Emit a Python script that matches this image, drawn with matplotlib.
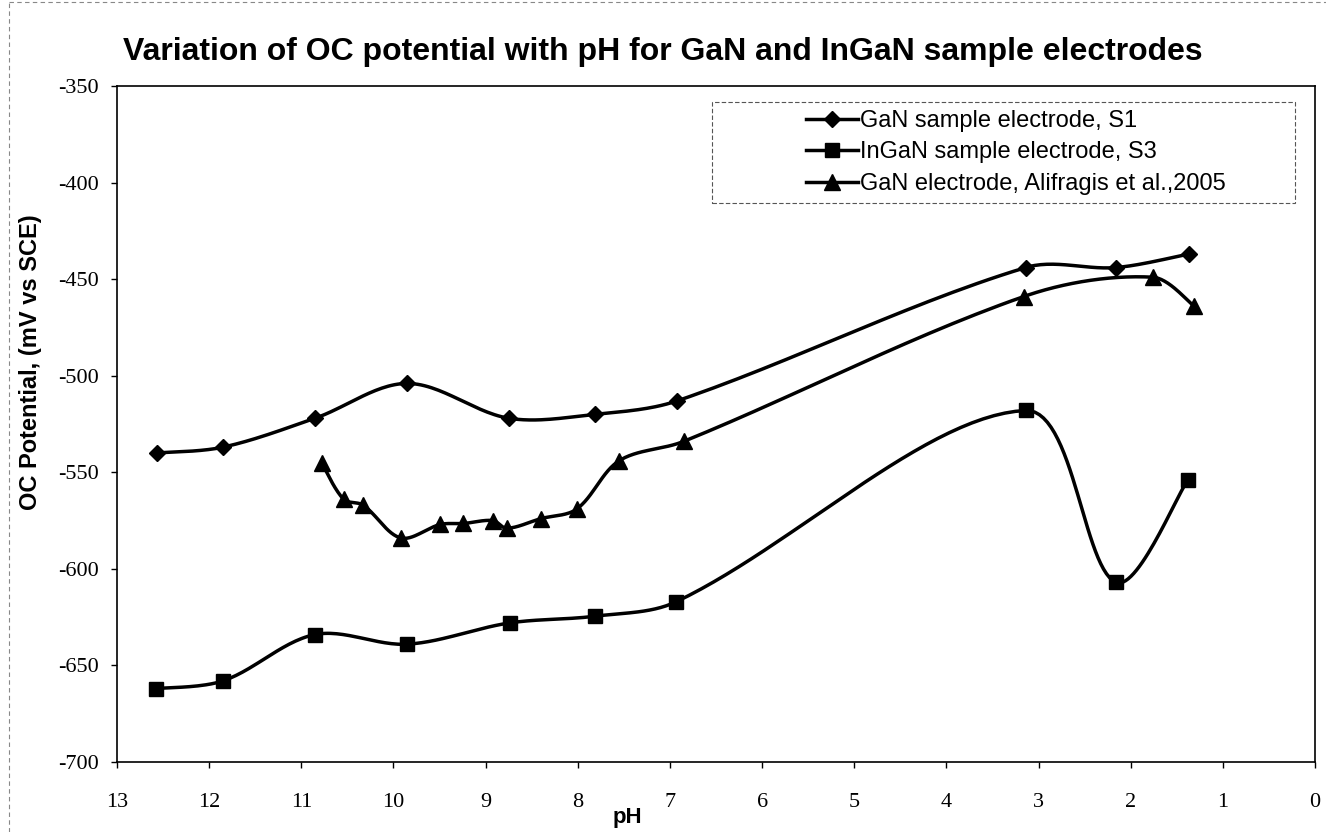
import numpy as np
import matplotlib
matplotlib.use('Agg')
import matplotlib.pyplot as plt
from matplotlib.patches import Rectangle
from matplotlib.lines import Line2D

plt.rcParams['axes.unicode_minus'] = False

# GaN sample electrode, S1
ph_s1 = [12.57, 11.85, 10.85, 9.85, 8.75, 7.81, 6.92, 3.14, 2.16, 1.37]
mv_s1 = [-540, -537, -522, -504, -522, -520, -513, -444, -444, -437]

# InGaN sample electrode, S3
ph_s3 = [12.58, 11.85, 10.85, 9.85, 8.74, 7.81, 6.93, 3.14, 2.16, 1.38]
mv_s3 = [-662, -658, -634, -639, -628, -624.5, -617, -518, -607, -554]

# GaN electrode, Alifragis et al., 2005
ph_ali = [10.78, 10.54, 10.33, 9.92, 9.49, 9.24, 8.92, 8.77, 8.40, 8.01, 7.55, 6.85, 3.16, 1.76, 1.31]
mv_ali = [-545, -564, -567, -584, -577, -576.5, -575, -579, -574, -569, -544, -534, -459, -449, -464]

labels = ['GaN sample electrode, S1',
          'InGaN sample electrode, S3',
          'GaN electrode, Alifragis et al.,2005']
x_ticks = list(range(13, -1, -1))
y_ticks = list(range(-700, -349, 50))


def smooth_px(P, n=30):
    # linea suavizada (Bezier), tangentes escaladas segun largo de los tramos
    P = np.asarray(P, dtype=float)
    N = len(P)
    L = np.linalg.norm(np.diff(P, axis=0), axis=1)
    T = np.zeros_like(P)
    T[0] = P[1] - P[0]
    T[-1] = P[-1] - P[-2]
    for k in range(1, N - 1):
        T[k] = P[k + 1] - P[k - 1]
    t = np.linspace(0, 1, n)[1:, None]
    out = [P[0]]
    for i in range(N - 1):
        if i == 0:
            c1 = P[i] + T[i] / 6
        else:
            c1 = P[i] + T[i] * L[i] / (L[i - 1] + L[i]) / 3
        if i + 1 == N - 1:
            c2 = P[i + 1] - T[i + 1] / 6
        else:
            c2 = P[i + 1] - T[i + 1] * L[i] / (L[i] + L[i + 1]) / 3
        seg = (1 - t)**3 * P[i] + 3 * (1 - t)**2 * t * c1 + 3 * (1 - t) * t**2 * c2 + t**3 * P[i + 1]
        out.extend(seg)
    return np.array(out)


fig = plt.figure(figsize=(13.26, 8.32), dpi=100)
ax = fig.add_axes([117 / 1326, 1 - 762 / 832, 1198 / 1326, 676 / 832])
ax.set_xlim(13, 0)
ax.set_ylim(-700, -350)

lw = 2.5
series = [(ph_s1, mv_s1, 'D', 8.5), (ph_s3, mv_s3, 's', 10), (ph_ali, mv_ali, '^', 11)]
handles = []
for (xs, ys, m, ms), lab in zip(series, labels):
    px = ax.transData.transform(np.column_stack([xs, ys]))
    curve = ax.transData.inverted().transform(smooth_px(px))
    ax.plot(curve[:, 0], curve[:, 1], color='black', lw=lw, solid_capstyle='round')
    ax.plot(xs, ys, linestyle='none', marker=m, ms=ms, color='black')
    handles.append(Line2D([], [], color='black', lw=lw, marker=m, ms=ms, label=lab))

ax.set_xticks(x_ticks)
ax.set_yticks(y_ticks)
ax.tick_params(direction='out', length=4, width=1)
ax.tick_params(axis='x', pad=18)
ax.tick_params(axis='y', pad=9)
for lbl in ax.get_xticklabels() + ax.get_yticklabels():
    lbl.set_fontfamily('Liberation Serif')
    lbl.set_fontsize(16)
for s in ax.spines.values():
    s.set_linewidth(1.2)

ax.text(0.426, -0.0814, 'pH', transform=ax.transAxes, ha='center', va='center',
        fontfamily='Liberation Sans', fontweight='bold', fontsize=16)
ax.set_ylabel('OC Potential, (mV vs SCE)', fontfamily='Liberation Sans', fontweight='bold', fontsize=17)
ax.yaxis.set_label_coords(-0.0626, 0.592)

fig.text(0.5, 0.937, 'Variation of OC potential with pH for GaN and InGaN sample electrodes',
         ha='center', va='center', fontfamily='Liberation Sans', fontweight='bold', fontsize=23)

# caja de la leyenda (punteada)
ax.add_patch(Rectangle((0.497, 0.827), 0.486, 0.149, transform=ax.transAxes, fill=False,
                       edgecolor='#555555', lw=0.8, linestyle=(0, (4, 2))))
leg = ax.legend(handles=handles, loc='upper left', bbox_to_anchor=(0.565, 0.982),
                frameon=False, prop={'family': 'Liberation Sans', 'size': 17},
                handlelength=2.2, handletextpad=0.12, labelspacing=0.4, borderpad=0)

# borde punteado de la figura
fig.add_artist(Line2D([9 / 1326, 9 / 1326], [0, 0.998], transform=fig.transFigure,
                      color='#888888', lw=0.8, linestyle=(0, (4, 3))))
fig.add_artist(Line2D([9 / 1326, 1], [0.997, 0.997], transform=fig.transFigure,
                      color='#888888', lw=0.8, linestyle=(0, (4, 3))))

fig.savefig('out.png', dpi=100)
